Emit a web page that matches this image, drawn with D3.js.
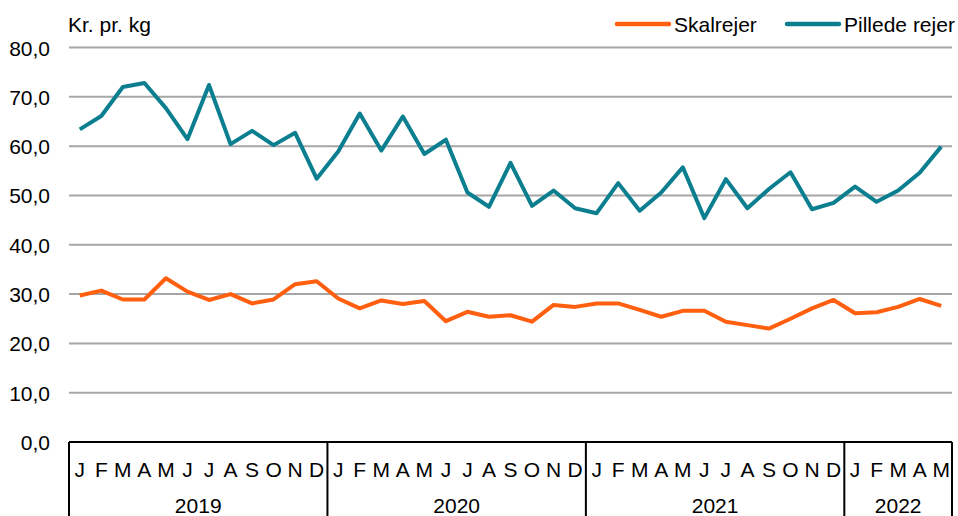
<!DOCTYPE html>
<html>
<head>
<meta charset="utf-8">
<script src="https://cdn.jsdelivr.net/npm/d3@7"></script>
<style>
  body { margin: 0; background: #fff; }
  text { font-family: "Liberation Sans", Arial, sans-serif; fill: #000; font-size: 21px; }
</style>
</head>
<body>
<div id="chart"></div>
<script>
var years = ['2019', '2020', '2021', '2022'];
var monthLetters = ['J', 'F', 'M', 'A', 'M', 'J', 'J', 'A', 'S', 'O', 'N', 'D'];
var monthsPerYear = [12, 12, 12, 5];
var yTicks = [0, 10, 20, 30, 40, 50, 60, 70, 80];

var skalrejer = [29.7, 30.7, 28.9, 28.9, 33.2, 30.5, 28.8, 30.0, 28.1, 28.9, 32.0, 32.6,
                 29.1, 27.1, 28.7, 28.0, 28.6, 24.5, 26.4, 25.4, 25.7, 24.4, 27.8, 27.4,
                 28.1, 28.1, 26.8, 25.4, 26.6, 26.6, 24.4, 23.7, 23.0, 25.0, 27.1, 28.8,
                 26.1, 26.3, 27.4, 29.0, 27.6];
var pilledeRejer = [63.4, 66.1, 72.0, 72.8, 67.7, 61.4, 72.4, 60.4, 63.1, 60.2, 62.7, 53.4,
                    58.9, 66.6, 59.1, 66.0, 58.4, 61.3, 50.6, 47.7, 56.6, 47.9, 51.0, 47.4,
                    46.4, 52.5, 46.9, 50.6, 55.7, 45.4, 53.3, 47.4, 51.3, 54.7, 47.2, 48.5,
                    51.8, 48.7, 51.0, 54.6, 59.9];

var seriesNames = ['Skalrejer', 'Pillede rejer'];
var seriesColors = ['#ff5f0f', '#0b7f8f'];

var W = 958, H = 516;
var mLeft = 69, mRight = 952, mTop = 47.5, mBottom = 442;

// one entry per month
var months = [];
years.forEach(function(yr, yi) {
  for (var m = 0; m < monthsPerYear[yi]; m++) {
    months.push({ key: yr + '-' + m, letter: monthLetters[m], year: yr });
  }
});

var x = d3.scaleBand().domain(months.map(function(d) { return d.key; })).range([mLeft, mRight]).padding(0);
var y = d3.scaleLinear().domain([0, 80]).range([mBottom, mTop]);

var svg = d3.select('#chart').append('svg')
  .attr('width', W)
  .attr('height', H);

// gridlines
svg.selectAll('.grid')
  .data(yTicks.filter(function(t) { return t > 0; }))
 .enter().append('line')
  .attr('class', 'grid')
  .attr('x1', mLeft).attr('x2', mRight)
  .attr('y1', function(d) { return y(d); })
  .attr('y2', function(d) { return y(d); })
  .style('stroke', '#a6a6a6')
  .style('stroke-width', 2);

// y labels
svg.selectAll('.ylab')
  .data(yTicks)
 .enter().append('text')
  .attr('class', 'ylab')
  .attr('x', 50)
  .attr('y', function(d) { return y(d) + 8; })
  .attr('text-anchor', 'end')
  .text(function(d) { return d3.format('.1f')(d).replace('.', ','); });

svg.append('text')
  .attr('x', 68).attr('y', 32)
  .text('Kr. pr. kg');

// x axis
svg.append('line')
  .attr('x1', mLeft).attr('x2', mRight)
  .attr('y1', mBottom).attr('y2', mBottom)
  .style('stroke', '#000').style('stroke-width', 2);

var yearSpans = [];
var idx = 0;
years.forEach(function(yr, yi) {
  yearSpans.push({ year: yr, x0: x(months[idx].key), x1: x(months[idx + monthsPerYear[yi] - 1].key) + x.bandwidth() });
  idx += monthsPerYear[yi];
});

var seps = [mLeft].concat(yearSpans.map(function(d) { return d.x1; }));
svg.selectAll('.sep')
  .data(seps)
 .enter().append('line')
  .attr('x1', function(d) { return d; }).attr('x2', function(d) { return d; })
  .attr('y1', mBottom).attr('y2', H)
  .style('stroke', '#000').style('stroke-width', 2);

svg.selectAll('.mlab')
  .data(months)
 .enter().append('text')
  .attr('x', function(d) { return x(d.key) + x.bandwidth() / 2; })
  .attr('y', 477)
  .attr('text-anchor', 'middle')
  .text(function(d) { return d.letter; });

svg.selectAll('.yrlab')
  .data(yearSpans)
 .enter().append('text')
  .attr('x', function(d) { return (d.x0 + d.x1) / 2; })
  .attr('y', 513)
  .attr('text-anchor', 'middle')
  .text(function(d) { return d.year; });

// lines
var line = d3.line()
  .x(function(d, i) { return x(months[i].key) + x.bandwidth() / 2; })
  .y(function(d) { return y(d); });

[skalrejer, pilledeRejer].forEach(function(s, si) {
  svg.append('path')
    .datum(s)
    .attr('d', line)
    .style('fill', 'none')
    .style('stroke', seriesColors[si])
    .style('stroke-width', 4)
    .style('stroke-linejoin', 'round');
});

// legend
var legendX = [617, 787];
seriesNames.forEach(function(n, i) {
  svg.append('line')
    .attr('x1', legendX[i]).attr('x2', legendX[i] + 52)
    .attr('y1', 24).attr('y2', 24)
    .style('stroke', seriesColors[i])
    .style('stroke-width', 4.5)
    .style('stroke-linecap', 'round');
  svg.append('text')
    .attr('x', legendX[i] + 57).attr('y', 32)
    .text(n);
});
</script>
</body>
</html>
